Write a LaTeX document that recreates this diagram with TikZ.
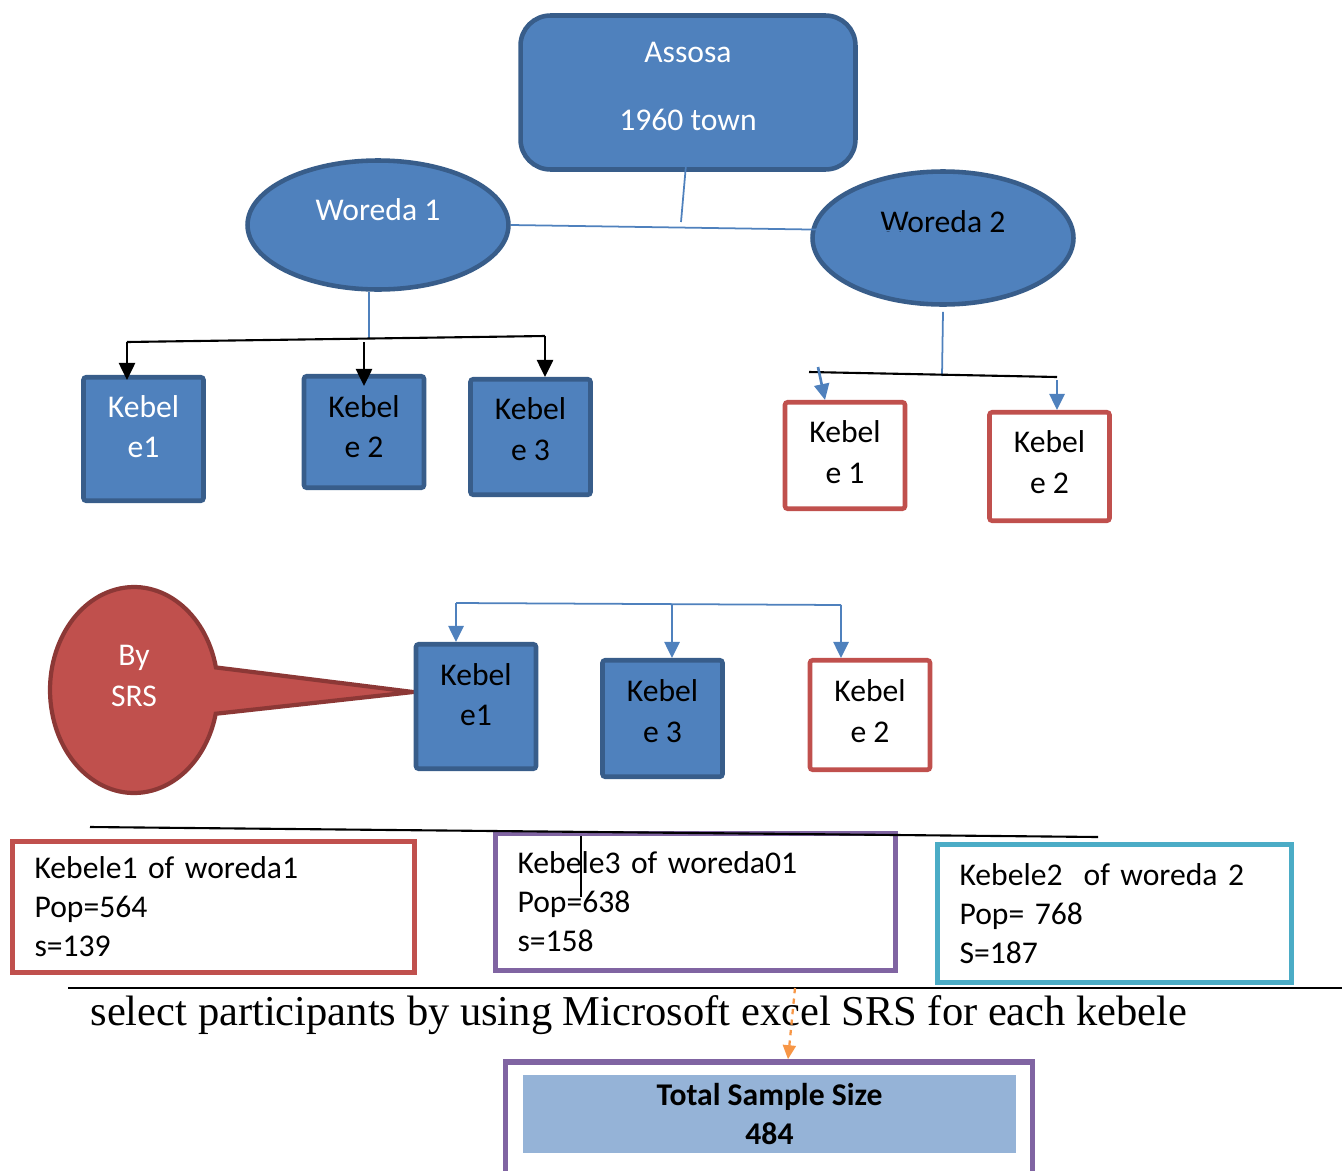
\documentclass[tikz,border=0pt]{standalone}
\usepackage{fontspec}
\setmainfont{Carlito}
\newfontfamily\capfont{Liberation Serif}
\usetikzlibrary{shapes.geometric,shapes.callouts,arrows.meta}
\definecolor{bfill}{HTML}{4F81BD}
\definecolor{bline}{HTML}{385D8A}
\definecolor{rline}{HTML}{C0504D}
\definecolor{rdark}{HTML}{8C3836}
\definecolor{pline}{HTML}{8064A2}
\definecolor{tline}{HTML}{4BACC6}
\definecolor{oline}{HTML}{F79646}
\definecolor{lfill}{HTML}{95B3D7}
\begin{document}
\begin{tikzpicture}[x=0.02cm,y=-0.02cm,font=\fontsize{18}{23.3}\selectfont,
  bluebox/.style={draw=bline,fill=bfill,line width=2.6pt,rounded corners=1.5pt,align=center,inner sep=0pt,minimum width=2.4cm},
  redbox/.style={draw=rline,fill=white,line width=2.6pt,rounded corners=1.5pt,align=center,inner sep=0pt,minimum width=2.4cm},
  woreda/.style={ellipse,draw=bline,fill=bfill,line width=2.6pt,inner sep=0pt},
  infobox/.style={draw,line width=3.2pt,align=left,inner xsep=0.44cm,inner ysep=0pt,font=\fontsize{18}{22.2}\selectfont},
  bconn/.style={draw=bfill,line width=1pt},
  kconn/.style={draw=black,line width=1.2pt},
  karrow/.style={kconn,line width=1.5pt,-{Triangle[length=0.34cm,width=0.32cm]}},
  barrow/.style={bconn,line width=1.5pt,-{Triangle[length=0.32cm,width=0.3cm]}}]
\useasboundingbox (0,0) rectangle (1342,1170);
\clip (0,0) rectangle (1342,1170);
%\draw[thick,dashed] (0,0) rectangle (1342,1170);
\node[draw=bline,fill=bfill,line width=2.6pt,rounded corners=0.6cm,align=center,text=white,minimum width=6.7cm,minimum height=3.08cm,text depth=0.26cm] (assosa) at (688,92.5) {Assosa\\[15.4pt]1960 town};
\node[woreda,text=white,minimum width=5.22cm,minimum height=2.58cm,text depth=0.6cm] (w1) at (378,225) {Woreda 1};
\node[woreda,text=black,minimum width=5.22cm,minimum height=2.66cm,text depth=0.64cm] (w2) at (943,238) {Woreda 2};
\node[bluebox,text=white,minimum height=2.47cm,text depth=0.5cm] (k1) at (143.5,439) {Kebel\\e1};
\node[bluebox,minimum height=2.23cm,text depth=0.22cm] (k2) at (364,432) {Kebel\\e 2};
\node[bluebox,minimum height=2.31cm,text depth=0.32cm] (k3) at (530.5,437) {Kebel\\e 3};
\node[redbox,minimum height=2.13cm,text depth=0.14cm] (r1) at (845,455.5) {Kebel\\e 1};
\node[redbox,minimum height=2.17cm,text depth=0.18cm] (r2) at (1049.5,466.5) {Kebel\\e 2};
\coordinate (srstip) at (413,692);
\node[ellipse callout,draw=rdark,fill=rline,line width=2.4pt,text=white,align=center,inner sep=0pt,minimum width=3.36cm,minimum height=4.12cm,text depth=0.56cm,callout pointer arc=26,callout absolute pointer={(srstip)}] (srs) at (134,690) {By\\SRS};
\node[bluebox,minimum height=2.49cm,text depth=0.48cm] (lk1) at (476,706.5) {Kebel\\e1};
\node[bluebox,minimum height=2.33cm,text depth=0.3cm] (lk3) at (662.5,718.5) {Kebel\\e 3};
\node[redbox,minimum height=2.19cm,text depth=0.16cm] (lk2) at (870,715) {Kebel\\e 2};
\node[infobox,draw=rline,minimum width=8.04cm,minimum height=2.62cm,text width=7.16cm] (infoa) at (213.5,907) {Kebele1 of woreda1\\Pop=564\\s=139};
\node[infobox,draw=pline,minimum width=8.0cm,minimum height=2.74cm,text width=7.12cm] (infob) at (695.5,902) {Kebele3 of woreda01\\Pop=638\\s=158};
\node[infobox,draw=tline,minimum width=7.08cm,minimum height=2.76cm,text width=6.2cm] (infoc) at (1114.5,913.5) {Kebele2\ \ of woreda 2\\Pop= 768\\S=187};
\node[font=\capfont\fontsize{24.2}{28}\selectfont,inner sep=0pt] (cap) at (639,1015) {select participants by using Microsoft excel SRS for each kebele};
\node[draw=pline,line width=3.2pt,minimum width=10.54cm,minimum height=2.56cm] (total) at (769,1126) {};
\node[fill=lfill,align=center,inner sep=0pt,minimum width=9.86cm,minimum height=1.56cm,font=\bfseries\fontsize{18}{22.2}\selectfont] (tsum) at (769.5,1114) {Total Sample Size\\484};
\coordinate (abus) at (681,222);
\coordinate (w2in) at (910,231);
\coordinate (w1bus) at (369,338);
\coordinate (b1l) at (127,342);
\coordinate (b1r) at (545,336);
\coordinate (w2bus) at (942,376);
\coordinate (b2l) at (809,372);
\coordinate (b2r) at (1057,377);
\coordinate (a21) at (818,367);
\coordinate (b3l) at (456,603);
\coordinate (b3r) at (841,605);
\coordinate (a33) at (672,605);
\coordinate (hl1) at (90,827);
\coordinate (hl2) at (1098,837);
\coordinate (hl3) at (68,988);
\coordinate (hl4) at (1342,988);
\coordinate (oa) at (795,988);
\draw[bconn] ([yshift=0.6cm]assosa.south) -- (abus);
\draw[bconn] (w1.east) -- (w2in);
\draw[bconn] (w1.south -| w1bus) -- (w1bus);
\draw[kconn] (b1l) -- (b1r);
\draw[karrow] (b1l) -- ([yshift=-0.1cm]k1.north -| b1l);
\draw[karrow] (k2.north |- b1l) -- ([yshift=-0.24cm]k2.north);
\draw[karrow] (b1r) -- (k3.north -| b1r);
\draw[bconn] ([yshift=-0.1cm]w2.south) -- (w2bus);
\draw[kconn] (b2l) -- (b2r);
\draw[barrow] (a21) -- ([xshift=-0.4cm]r1.north);
\draw[barrow] ([yshift=-0.06cm]b2r) -- (r2.north -| b2r);
\draw[bconn] (b3l) -- (b3r);
\draw[barrow] (b3l) -- (lk1.north -| b3l);
\draw[barrow] (a33) -- (lk3.north -| a33);
\draw[barrow] (b3r) -- (lk2.north -| b3r);
\draw[kconn] (hl1) -- (hl2);
\draw[black,line width=0.8pt] (581,836) -- (581,897);
\draw[kconn] (hl3) -- (hl4);
\draw[oline,line width=1.3pt,dashed,-{Triangle[length=0.28cm,width=0.26cm]}] (oa) -- ([xshift=0.38cm]total.north);
\end{tikzpicture}
\end{document}
